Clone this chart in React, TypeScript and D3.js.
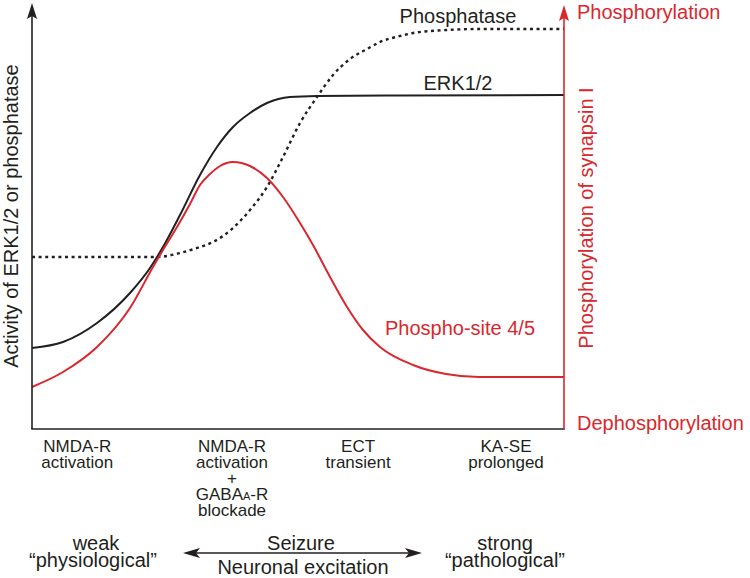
import React from "react";
import * as d3 from "d3";

// x: stimulus strength (0-100), y: activity / phosphorylation level (0-100)
const erkX = [0, 5.83, 12.22, 18.42, 22.18, 24.62, 27.82, 31.58, 34.77, 37.78, 40.98, 44.17, 48.5, 53.57, 69.17, 100];
const erkY = [20.25, 21.75, 26.5, 34, 40.25, 45.5, 53.5, 63.5, 70.5, 75.5, 79, 81.5, 83, 83.25, 83.4, 83.5];

const siteX = [0, 5.83, 12.22, 18.42, 22.74, 24.62, 27.26, 29.7, 31.58, 33.46, 35.34, 37.78, 40.98, 44.17, 47.18, 50.38, 52.82, 56.02, 59.21, 62.22, 65.41, 71.62, 77.82, 84.02, 100];
const siteY = [10.5, 14.25, 20.5, 30.25, 40.5, 44.75, 50.5, 56.25, 61, 63.75, 65.75, 66.75, 65.75, 62.75, 58, 51.5, 46, 38, 30.5, 24.75, 20.5, 16, 13.75, 13, 13];

const phosX = [0, 12.78, 23.5, 27.82, 31.58, 34.02, 37.78, 40.98, 44.17, 47.18, 50.38, 53.57, 56.58, 59.77, 62.97, 65.41, 69.17, 71.62, 78.01, 84.21, 100];
const phosY = [43, 43, 43, 44, 45.5, 46.75, 50.25, 54.75, 60.5, 68, 76.5, 83, 88.5, 92.5, 95, 96.75, 98.25, 99, 99.75, 100, 100];

const categoryPos = [8.5, 37.6, 61.3, 89.1];
const categoryLabels: string[][] = [
  ["NMDA-R", "activation"],
  ["NMDA-R", "activation", "+", "GABA_A-R", "blockade"],
  ["ECT", "transient"],
  ["KA-SE", "prolonged"],
];

const RED = "#d9272e";
const BLACK = "#231f20";
const FONT = "'Liberation Sans', Arial, Helvetica, sans-serif";

export default function App() {
  const x = d3.scaleLinear().domain([0, 100]).range([32, 564]);
  const y = d3.scaleLinear().domain([0, 100]).range([429, 29]);
  const line = d3
    .line<[number, number]>()
    .x((d) => x(d[0]))
    .y((d) => y(d[1]))
    .curve(d3.curveMonotoneX);

  const zip = (a: number[], b: number[]) => a.map((v, i) => [v, b[i]] as [number, number]);

  const renderLabel = (s: string) => {
    if (s.includes("_A")) {
      const [pre, post] = s.split("_A");
      return (
        <>
          {pre}
          <tspan fontSize={11}>A</tspan>
          {post}
        </>
      );
    }
    return s;
  };

  return (
    <svg
      width={750}
      height={578}
      style={{ position: "absolute", left: 0, top: 0, background: "#fff" }}
      fontFamily={FONT}
    >
      {/* curves */}
      <path d={line(zip(phosX, phosY)) || ""} fill="none" stroke={BLACK} strokeWidth={2.4} strokeDasharray="3,3.6" />
      <path d={line(zip(erkX, erkY)) || ""} fill="none" stroke={BLACK} strokeWidth={2} />
      <path d={line(zip(siteX, siteY)) || ""} fill="none" stroke={RED} strokeWidth={2} />

      {/* left axis */}
      <line x1={x(0)} x2={x(0)} y1={y(0)} y2={12} stroke={BLACK} strokeWidth={1.6} />
      <path d={`M${x(0)},3 L${x(0) + 5},19 L${x(0)},16 L${x(0) - 5},19 Z`} fill={BLACK} />
      {/* bottom axis */}
      <line x1={x(0) - 0.8} x2={x(100) + 0.8} y1={y(0)} y2={y(0)} stroke={BLACK} strokeWidth={1.6} />
      {/* right axis */}
      <line x1={x(100)} x2={x(100)} y1={y(0)} y2={14} stroke={RED} strokeWidth={1.6} />
      <path d={`M${x(100)},5 L${x(100) + 5},21 L${x(100)},18 L${x(100) - 5},21 Z`} fill={RED} />

      {/* series labels */}
      <text x={458} y={23} fontSize={20} textAnchor="middle" fill={BLACK}>Phosphatase</text>
      <text x={458} y={90} fontSize={20} textAnchor="middle" fill={BLACK}>ERK1/2</text>
      <text x={460} y={335} fontSize={20} textAnchor="middle" fill={RED}>Phospho-site 4/5</text>

      {/* right labels */}
      <text x={577} y={19} fontSize={20} fill={RED}>Phosphorylation</text>
      <text x={577} y={430} fontSize={20} fill={RED}>Dephosphorylation</text>
      <text transform="translate(593,218) rotate(-90)" fontSize={20} textAnchor="middle" fill={RED}>
        Phosphorylation of synapsin I
      </text>

      {/* left label */}
      <text transform="translate(18,216) rotate(-90)" fontSize={20} textAnchor="middle" fill={BLACK}>
        Activity of ERK1/2 or phosphatase
      </text>

      {/* category labels */}
      {categoryLabels.map((lines, i) =>
        lines.map((s, j) => (
          <text key={`${i}-${j}`} x={x(categoryPos[i])} y={452 + j * 16} fontSize={17} textAnchor="middle" fill={BLACK}>
            {renderLabel(s)}
          </text>
        ))
      )}

      {/* bottom scale */}
      <text x={96} y={550} fontSize={20} textAnchor="middle" fill={BLACK}>weak</text>
      <text x={93} y={567} fontSize={20} textAnchor="middle" fill={BLACK}>“physiological”</text>
      <text x={505} y={550} fontSize={20} textAnchor="middle" fill={BLACK}>strong</text>
      <text x={505} y={567} fontSize={20} textAnchor="middle" fill={BLACK}>“pathological”</text>
      <text x={301} y={550} fontSize={20} textAnchor="middle" fill={BLACK}>Seizure</text>
      <text x={303} y={574} fontSize={20} textAnchor="middle" fill={BLACK}>Neuronal excitation</text>
      <line x1={192} x2={413} y1={553} y2={553} stroke={BLACK} strokeWidth={1.5} />
      <path d="M183,553 L200,548 L196,553 L200,558 Z" fill={BLACK} />
      <path d="M422,553 L405,548 L409,553 L405,558 Z" fill={BLACK} />
    </svg>
  );
}
